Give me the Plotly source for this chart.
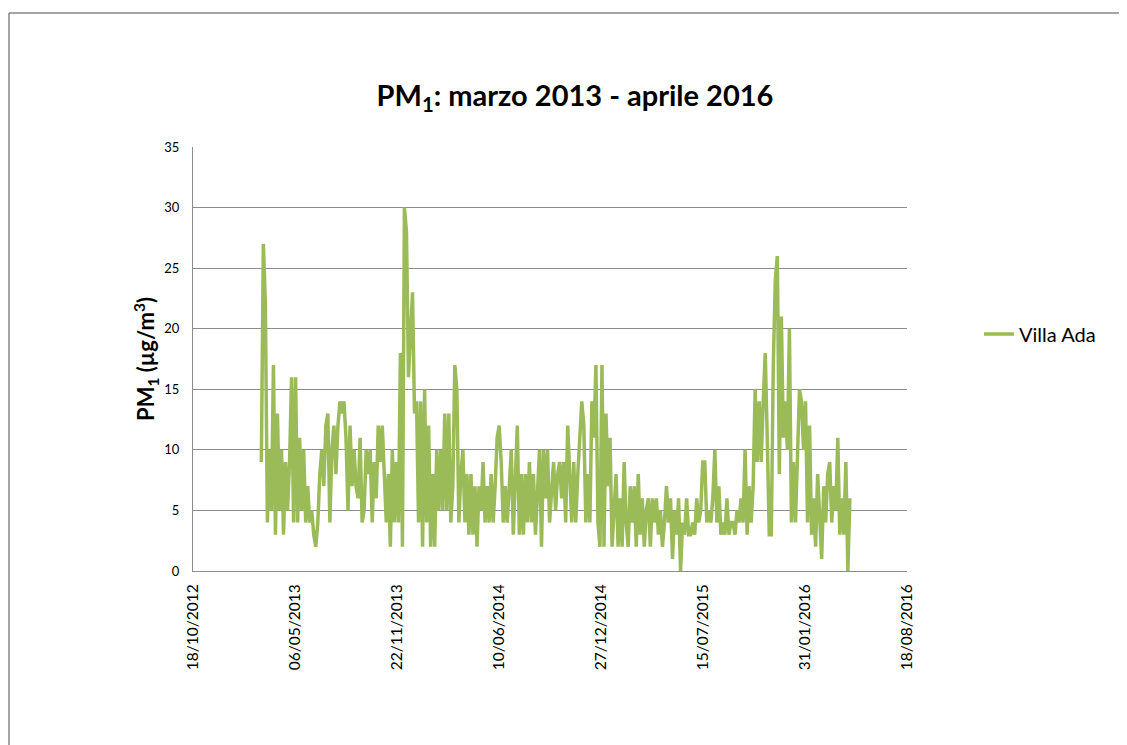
import plotly.graph_objects as go
import pandas as pd

# ---- data ----
series_name = "Villa Ada"
start_date = "2013-03-01"
end_date = "2016-04-28"

pm1_values = [
    # mar 2013 - oct 2013
    9, 27, 22, 4, 10, 5, 17, 3, 13, 5, 10, 3, 9, 5, 9, 16, 4, 16, 4, 11,
    5, 10, 4, 7, 4, 5, 3, 2, 4, 8, 10, 7, 12, 13, 4, 10, 12, 8, 12, 14,
    13, 14, 11, 5, 12, 7, 10, 7, 6, 11, 4,
    # oct 2013 - may 2014
    5, 10, 8, 10, 4, 9, 6, 12, 9, 12, 7, 4, 8, 2, 10, 4, 9, 4, 18, 2,
    30, 28, 16, 20, 23, 13, 14, 4, 14, 2, 15, 4, 12, 2, 8, 2, 10, 5, 10, 5,
    13, 5, 13, 4, 7, 17, 15, 4, 8, 10, 4,
    # may 2014 - dec 2014
    8, 3, 8, 3, 7, 2, 7, 5, 9, 4, 7, 4, 8, 4, 7, 11, 12, 9, 4, 7,
    4, 7, 10, 3, 8, 12, 3, 8, 3, 8, 4, 9, 4, 8, 3, 7, 10, 2, 10, 6,
    10, 4, 7, 9, 5, 8, 9, 6, 9, 4, 12, 8,
    # jan 2015 - jul 2015
    4, 9, 4, 8, 11, 14, 12, 4, 8, 4, 14, 11, 17, 4, 2, 17, 2, 13, 7, 11,
    2, 5, 8, 2, 6, 2, 9, 4, 2, 7, 4, 7, 2, 8, 3, 6, 2, 5, 6, 2,
    6, 4, 6, 3, 5, 2, 4, 7, 4, 6, 1,
    # jul 2015 - dec 2015
    5, 3, 6, 0, 4, 3, 6, 3, 3, 4, 3, 6, 4, 5, 9, 9, 4, 5, 4, 6,
    10, 4, 7, 3, 4, 3, 6, 3, 4, 4, 3, 5, 4, 6, 4, 10, 3, 7, 4, 7,
    15, 9, 14,
    # dec 2015 - apr 2016
    9, 14, 18, 11, 3, 3, 17, 24, 26, 8, 21, 11, 14, 10, 20, 4, 9, 4, 9, 15,
    14, 10, 14, 4, 12, 3, 6, 2, 8, 4, 1, 7, 4, 8, 9, 4, 7, 5, 11, 3,
    6, 3, 9, 0, 6,
]

y_tick_values = [0, 5, 10, 15, 20, 25, 30, 35]
x_tick_labels = ["18/10/2012", "06/05/2013", "22/11/2013", "10/06/2014",
                 "27/12/2014", "15/07/2015", "31/01/2016", "18/08/2016"]

# ---- build ----
dates = pd.date_range(start_date, end_date, periods=len(pm1_values))
x_tick_dates = pd.to_datetime(x_tick_labels, format="%d/%m/%Y")

OFF = 8  # default page body margin
W, H = 1127 - OFF, 745 - OFF
L, R, T, B = 193 - OFF, 907 - OFF, 147 - OFF, 571 - OFF  # plot area (figure px)


def px_x(px):
    return (px - OFF - L) / (R - L)


def px_y(py):
    return (B - (py - OFF)) / (B - T)


fig = go.Figure()
fig.add_trace(go.Scatter(
    x=dates, y=pm1_values, mode="lines", name=series_name,
    line=dict(color="#9BBB59", width=3.5),
))

font_family = "Lato, 'Open Sans', sans-serif"
grid_col = "#8C8C8C"

fig.update_layout(
    width=W, height=H,
    margin=dict(l=L, r=W - R, t=T, b=H - B, pad=0),
    paper_bgcolor="white", plot_bgcolor="white",
    font=dict(family=font_family, color="#000000"),
    title=dict(
        text="<b>PM<sub>1</sub>: marzo 2013 - aprile 2016</b>",
        x=(575 - OFF) / W, xanchor="center", xref="container",
        y=1 - (96 - OFF) / H, yanchor="middle", yref="container",
        font=dict(size=29, family=font_family, color="#000000"),
    ),
    showlegend=True,
    legend=dict(
        x=px_x(979), y=px_y(334), xanchor="left", yanchor="middle",
        font=dict(size=20, family=font_family, color="#000000"),
        itemwidth=30, bgcolor="rgba(0,0,0,0)",
    ),
    xaxis=dict(
        range=[x_tick_dates[0], x_tick_dates[-1]],
        tickvals=x_tick_dates, ticktext=x_tick_labels,
        tickangle=-90, tickfont=dict(size=15.5, family=font_family, color="#000000"),
        showgrid=False, zeroline=False,
        showline=True, linecolor=grid_col, linewidth=1,
        ticks="", ticklabelstandoff=6,
    ),
    yaxis=dict(
        range=[0, 35], tickvals=y_tick_values,
        tickfont=dict(size=13, family=font_family, color="#000000"),
        showgrid=True, gridcolor=grid_col, gridwidth=1,
        zeroline=False, showline=True, linecolor=grid_col, linewidth=1,
        ticks="", ticklabelstandoff=10,
        title=dict(
            text="<b>PM<sub>1</sub> (µg/m<sup>3</sup>)</b>",
            font=dict(size=22, family=font_family, color="#000000"),
            standoff=3,
        ),
    ),
    shapes=[
        dict(type="line", xref="paper", yref="paper",
             x0=px_x(9), x1=px_x(1127), y0=px_y(13), y1=px_y(13),
             line=dict(color="#868686", width=1.5)),
        dict(type="line", xref="paper", yref="paper",
             x0=px_x(9), x1=px_x(9), y0=px_y(13), y1=px_y(745),
             line=dict(color="#868686", width=1.5)),
    ],
)

fig.write_html("out.html")
